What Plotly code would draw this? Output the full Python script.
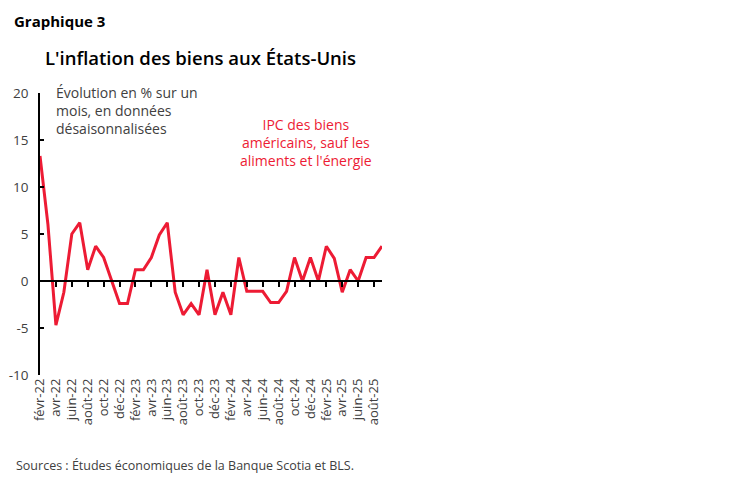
import plotly.graph_objects as go

months = ["févr-22","mars-22","avr-22","mai-22","juin-22","juil-22","août-22","sept-22","oct-22","nov-22","déc-22",
          "janv-23","févr-23","mars-23","avr-23","mai-23","juin-23","juil-23","août-23","sept-23","oct-23","nov-23","déc-23",
          "janv-24","févr-24","mars-24","avr-24","mai-24","juin-24","juil-24","août-24","sept-24","oct-24","nov-24","déc-24",
          "janv-25","févr-25","mars-25","avr-25","mai-25","juin-25","juil-25","août-25","sept-25"]
core_goods = [13.3, 6.0, -4.7, -1.2, 5.0, 6.2, 1.2, 3.7, 2.5, 0.0, -2.4,
              -2.4, 1.2, 1.2, 2.5, 4.9, 6.2, -1.2, -3.6, -2.4, -3.6, 1.2, -3.6,
              -1.2, -3.6, 2.5, -1.1, -1.1, -1.1, -2.3, -2.3, -1.1, 2.5, 0.0, 2.5,
              0.0, 3.7, 2.4, -1.2, 1.2, 0.0, 2.5, 2.5, 3.7]
tick_labels = months[::2]
y_ticks = [-10, -5, 0, 5, 10, 15, 20]
y_tick_text = ["-10", "-5", "0", "5", "10", "15", "20"]

RED = "#ED1B34"
GREY = "#404040"
FONT = "Open Sans"

W, H = 748, 483
OFF = 8  # page body margin in the browser
PL, PR, PT, PB = 40, 382, 93, 375  # target plot box in screenshot pixels
L = PL - OFF
T = PT - OFF
R = W - L - (PR - PL)
B = H - T - (PB - PT)

fig = go.Figure()
fig.add_trace(go.Scatter(x=months, y=core_goods, mode="lines",
                         line=dict(color=RED, width=3), showlegend=False, hoverinfo="skip"))
fig.add_trace(go.Scatter(x=months, y=core_goods, mode="lines", xaxis="x2",
                         line=dict(color="rgba(0,0,0,0)", width=0), showlegend=False, hoverinfo="skip"))

fig.update_layout(
    template="none",
    width=W, height=H,
    margin=dict(l=L, r=R, t=T, b=B, autoexpand=False),
    paper_bgcolor="white", plot_bgcolor="white",
    font=dict(family=FONT, color=GREY, size=13),
    xaxis=dict(type="category", categoryorder="array", categoryarray=months,
               range=[0, len(months) - 1], automargin=False,
               tickmode="array", tickvals=tick_labels, ticktext=tick_labels,
               tickangle=-90, showgrid=False, showline=False, zeroline=False,
               ticks="", tickfont=dict(size=13, color=GREY, family=FONT)),
    xaxis2=dict(type="category", categoryorder="array", categoryarray=months,
                range=[0, len(months) - 1], overlaying="x", anchor="free", position=1/3,
                automargin=False,
                tickmode="array", tickvals=tick_labels[1:], showticklabels=False,
                ticks="outside", ticklen=5, tickwidth=1.5, tickcolor="black",
                showline=True, linecolor="black", linewidth=1.5, showgrid=False, zeroline=False),
    yaxis=dict(range=[-10, 20], tickmode="array", tickvals=y_ticks, ticktext=y_tick_text,
               showgrid=False, zeroline=False, automargin=False,
               showline=True, linecolor="black", linewidth=1.5,
               ticks="inside", ticklen=4, tickwidth=1.5, tickcolor="black",
               ticklabelstandoff=7, tickfont=dict(size=13.5, color=GREY, family=FONT)),
)


def px_x(x):
    return (x - PL) / (PR - PL)


def px_y(y):
    return (PB - y) / (PB - PT)


fig.add_annotation(text="<b>Graphique 3</b>", x=px_x(12), y=px_y(21), xref="paper", yref="paper",
                   showarrow=False, xanchor="left", yanchor="middle",
                   font=dict(size=15, color="black", family=FONT))
fig.add_annotation(text="L'inflation des biens aux États-Unis", x=px_x(200), y=px_y(57),
                   xref="paper", yref="paper", showarrow=False, xanchor="center", yanchor="middle",
                   font=dict(size=18.5, color="black", family=FONT, weight=600))
fig.add_annotation(text="Évolution en % sur un<br>mois, en données<br>désaisonnalisées",
                   x=px_x(54), y=px_y(81), xref="paper", yref="paper", showarrow=False,
                   xanchor="left", yanchor="top", align="left",
                   font=dict(size=14, color=GREY, family=FONT))
fig.add_annotation(text="IPC des biens<br>américains, sauf les<br>aliments et l'énergie",
                   x=px_x(306), y=px_y(113), xref="paper", yref="paper", showarrow=False,
                   xanchor="center", yanchor="top", align="center",
                   font=dict(size=14, color=RED, family=FONT))
fig.add_annotation(text="Sources : Études économiques de la Banque Scotia et BLS.",
                   x=px_x(14), y=px_y(465), xref="paper", yref="paper", showarrow=False,
                   xanchor="left", yanchor="middle",
                   font=dict(size=12.5, color=GREY, family=FONT))

fig.write_html("out.html")
